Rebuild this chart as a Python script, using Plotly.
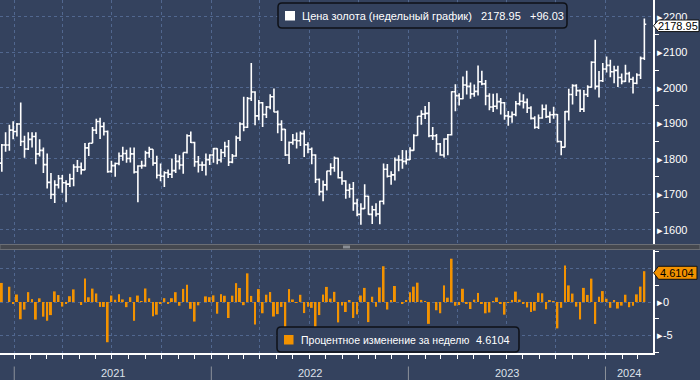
import numpy as np
import pandas as pd
import plotly.graph_objects as go

# ---------------- data (weekly gold, week ending Friday) ----------------
week_ending = pd.date_range("2020-11-27", "2024-03-08", freq="W-FRI")

open_ = [1871, 1788, 1839, 1839, 1881, 1877, 1898, 1849, 1828, 1855,
         1863, 1814, 1824, 1784, 1734, 1700, 1727, 1745, 1733, 1729,
         1744, 1777, 1777, 1769, 1831, 1844, 1881, 1905, 1891, 1877,
         1765, 1781, 1787, 1808, 1815, 1801, 1814, 1763, 1780, 1781,
         1817, 1827, 1788, 1754, 1751, 1761, 1757, 1767, 1793, 1783,
         1818, 1865, 1846, 1792, 1783, 1783, 1798, 1811, 1829, 1797,
         1818, 1835, 1791, 1808, 1859, 1898, 1889, 1970, 1988, 1921,
         1958, 1925, 1946, 1975, 1932, 1897, 1883, 1811, 1846, 1853,
         1851, 1871, 1840, 1827, 1811, 1742, 1708, 1727, 1766, 1775,
         1802, 1747, 1738, 1712, 1716, 1675, 1644, 1660, 1695, 1644,
         1657, 1645, 1681, 1771, 1751, 1755, 1797, 1797, 1793, 1798,
         1824, 1866, 1920, 1926, 1928, 1865, 1865, 1842, 1811, 1856,
         1868, 1989, 1978, 1969, 2008, 2004, 1983, 1990, 2017, 2011,
         1977, 1946, 1948, 1961, 1958, 1921, 1919, 1925, 1955, 1962,
         1959, 1943, 1914, 1889, 1915, 1940, 1919, 1924, 1925, 1849,
         1833, 1933, 1981, 2006, 1992, 1940, 1981, 2002, 2072, 2004,
         2020, 2053, 2063, 2045, 2049, 2029, 2018, 2040, 2024, 2013,
         2036, 2083]
high = [1875, 1842, 1875, 1896, 1906, 1901, 1959, 1865, 1875, 1875,
        1875, 1855, 1832, 1815, 1760, 1740, 1755, 1755, 1740, 1758,
        1785, 1797, 1790, 1845, 1845, 1890, 1913, 1916, 1903, 1880,
        1795, 1790, 1818, 1834, 1826, 1832, 1832, 1782, 1795, 1823,
        1834, 1827, 1809, 1787, 1765, 1770, 1801, 1814, 1810, 1818,
        1869, 1877, 1848, 1808, 1793, 1815, 1813, 1831, 1830, 1828,
        1848, 1853, 1814, 1865, 1903, 1975, 1974, 2070, 1990, 1966,
        1960, 1949, 1982, 1998, 1936, 1909, 1884, 1849, 1870, 1874,
        1877, 1880, 1847, 1832, 1813, 1745, 1739, 1767, 1788, 1807,
        1803, 1765, 1740, 1730, 1735, 1688, 1675, 1729, 1696, 1668,
        1675, 1682, 1787, 1786, 1765, 1804, 1810, 1825, 1824, 1833,
        1869, 1921, 1937, 1949, 1960, 1890, 1870, 1845, 1858, 1870,
        1990, 2010, 1985, 2032, 2048, 2015, 2009, 2063, 2048, 2022,
        1985, 1983, 1985, 1971, 1960, 1935, 1933, 1963, 1987, 1982,
        1970, 1948, 1920, 1925, 1953, 1953, 1933, 1947, 1926, 1850,
        1935, 1997, 2010, 2010, 1995, 1994, 2007, 2075, 2135, 2047,
        2070, 2088, 2079, 2062, 2062, 2040, 2065, 2045, 2031, 2041,
        2088, 2195]
low = [1774, 1764, 1820, 1823, 1855, 1863, 1836, 1803, 1825, 1832,
       1785, 1807, 1760, 1717, 1687, 1676, 1717, 1705, 1678, 1721,
       1723, 1763, 1756, 1768, 1808, 1844, 1870, 1856, 1866, 1761,
       1761, 1750, 1782, 1795, 1789, 1790, 1759, 1678, 1772, 1778,
       1803, 1781, 1745, 1737, 1721, 1746, 1746, 1760, 1770, 1758,
       1815, 1845, 1778, 1762, 1766, 1753, 1783, 1789, 1785, 1790,
       1805, 1780, 1788, 1806, 1850, 1878, 1887, 1963, 1895, 1909,
       1890, 1915, 1940, 1931, 1872, 1850, 1808, 1786, 1840, 1829,
       1836, 1805, 1816, 1785, 1732, 1697, 1681, 1711, 1754, 1764,
       1745, 1727, 1688, 1691, 1654, 1639, 1615, 1659, 1643, 1617,
       1638, 1616, 1672, 1748, 1727, 1739, 1765, 1772, 1784, 1797,
       1823, 1865, 1896, 1912, 1861, 1853, 1819, 1809, 1804, 1810,
       1866, 1934, 1950, 1968, 1981, 1969, 1975, 1978, 2007, 1951,
       1937, 1932, 1940, 1925, 1910, 1893, 1902, 1920, 1950, 1942,
       1929, 1911, 1885, 1884, 1913, 1915, 1901, 1913, 1846, 1810,
       1832, 1908, 1953, 1977, 1932, 1932, 1974, 2000, 1995, 1973,
       2016, 2043, 2030, 2013, 2002, 2010, 2016, 2015, 1984, 2010,
       2025, 2078]
close = [1788, 1839, 1839, 1881, 1877, 1898, 1849, 1828, 1855, 1863,
         1814, 1824, 1784, 1734, 1700, 1727, 1745, 1733, 1729, 1744,
         1777, 1777, 1769, 1831, 1844, 1881, 1905, 1891, 1877, 1764,
         1781, 1787, 1808, 1815, 1801, 1814, 1763, 1780, 1781, 1817,
         1827, 1788, 1754, 1751, 1761, 1757, 1767, 1793, 1783, 1818,
         1865, 1846, 1792, 1783, 1783, 1798, 1811, 1829, 1797, 1818,
         1835, 1791, 1808, 1859, 1898, 1889, 1970, 1988, 1921, 1958,
         1925, 1946, 1975, 1932, 1897, 1883, 1811, 1846, 1853, 1851,
         1871, 1840, 1827, 1811, 1742, 1708, 1727, 1766, 1775, 1802,
         1747, 1738, 1712, 1716, 1675, 1644, 1660, 1695, 1644, 1657,
         1645, 1681, 1771, 1751, 1755, 1797, 1797, 1793, 1798, 1824,
         1866, 1920, 1926, 1928, 1865, 1865, 1842, 1811, 1856, 1868,
         1989, 1978, 1969, 2008, 2004, 1983, 1990, 2017, 2011, 1977,
         1946, 1948, 1961, 1958, 1921, 1919, 1925, 1955, 1962, 1959,
         1943, 1914, 1889, 1915, 1940, 1919, 1924, 1925, 1849, 1833,
         1933, 1981, 2006, 1992, 1940, 1981, 2002, 2072, 2004, 2020,
         2053, 2063, 2045, 2049, 2029, 2018, 2040, 2024, 2013, 2036,
         2082.92, 2178.95]

price_name = "Цена золота (недельный график)"
pct_name = "Процентное изменение за неделю"
year_labels = ["2021", "2022", "2023", "2024"]
price_ticks = [1600, 1700, 1800, 1900, 2000, 2100, 2200]
pct_ticks = [-5, 0, 5]

assert len(week_ending) == len(open_) == len(high) == len(low) == len(close)

close_arr = np.array(close, dtype=float)
pct = np.r_[np.nan, (close_arr[1:] / close_arr[:-1] - 1.0) * 100.0]
last_close = close_arr[-1]
last_change = close_arr[-1] - close_arr[-2]
last_pct = pct[-1]

# ---------------- styling / layout ----------------
BG = "#34425E"
GRID = "#51678F"
ORANGE = "#F39200"
WHITE = "#FFFFFF"
FONT = "Liberation Sans, Arial, sans-serif"

W, H = 700, 380
PLOT_W, PLOT_H = 653, 353
UP_DOM = [1 - 244 / PLOT_H, 1.0]
LOW_DOM = [0.0, 104 / PLOT_H]
UP_RANGE = [1560.6, 2247.0]
LOW_RANGE = [-7.63, 7.93]
X_RANGE = ["2020-11-30 15:00", "2024-03-24 00:00"]
SHIFT = pd.Timedelta(days=5)
TAG_OFFSET_PX = 1.6

months = pd.date_range("2020-12-01", "2024-03-01", freq="MS")
quarter_ticks = [m - SHIFT for m in months if m.month in (1, 4, 7, 10)]
minor_month_ticks = [m - SHIFT for m in months if m.month not in (1, 4, 7, 10)]
year_starts = [pd.Timestamp(f"{y}-01-01") - SHIFT for y in year_labels]
x_end = pd.Timestamp(X_RANGE[1])
year_ends = year_starts[1:] + [x_end]
year_centers = [a + (b - a) / 2 for a, b in zip(year_starts, year_ends)]


def px_x(px):
    return px / PLOT_W


def px_y(py):
    return (PLOT_H - py) / PLOT_H


def up_paper(v):
    return UP_DOM[0] + (v - UP_RANGE[0]) / (UP_RANGE[1] - UP_RANGE[0]) * (UP_DOM[1] - UP_DOM[0])


def low_paper(v):
    return LOW_DOM[0] + (v - LOW_RANGE[0]) / (LOW_RANGE[1] - LOW_RANGE[0]) * (LOW_DOM[1] - LOW_DOM[0])


def P(x, y):
    return f"{px_x(x):.5f},{px_y(y):.5f}"


def rounded_rect(x0, y0, x1, y1, r):
    return (f"M {P(x0 + r, y0)} L {P(x1 - r, y0)} Q {P(x1, y0)} {P(x1, y0 + r)} "
            f"L {P(x1, y1 - r)} Q {P(x1, y1)} {P(x1 - r, y1)} L {P(x0 + r, y1)} "
            f"Q {P(x0, y1)} {P(x0, y1 - r)} L {P(x0, y0 + r)} Q {P(x0, y0)} {P(x0 + r, y0)} Z")


def tag_path(yc, x0, x1, half_h):
    return (f"M {P(x0, yc)} L {P(x0 + 5, yc - half_h)} L {P(x1, yc - half_h)} "
            f"L {P(x1, yc + half_h)} L {P(x0 + 5, yc + half_h)} Z")


fig = go.Figure()

fig.add_trace(go.Ohlc(
    x=week_ending, open=open_, high=high, low=low, close=close,
    increasing=dict(line=dict(color=WHITE, width=1.6)),
    decreasing=dict(line=dict(color=WHITE, width=1.6)),
    tickwidth=0.5, hoverinfo="skip", xaxis="x", yaxis="y", name=price_name,
))

fig.add_trace(go.Bar(
    x=week_ending, y=pct, marker=dict(color=ORANGE, line=dict(width=0)),
    width=3.6 * 86400000, hoverinfo="skip", xaxis="x2", yaxis="y2", name=pct_name,
))

axis_font = dict(family=FONT, size=11, color=WHITE)

fig.update_layout(
    width=W, height=H,
    margin=dict(l=0, r=W - PLOT_W, t=0, b=H - PLOT_H, autoexpand=False),
    paper_bgcolor=BG, plot_bgcolor=BG,
    showlegend=False, hovermode=False,
    font=dict(family=FONT, size=11, color=WHITE),
    xaxis=dict(
        domain=[0, 1], anchor="y", type="date", range=X_RANGE,
        tickmode="array", tickvals=quarter_ticks, showticklabels=False, ticks="",
        showgrid=True, gridcolor=GRID, griddash="dot", gridwidth=1,
        showline=False, zeroline=False, rangeslider=dict(visible=False),
        matches="x2",
    ),
    xaxis2=dict(
        domain=[0, 1], anchor="y2", type="date", range=X_RANGE,
        tickmode="array", tickvals=quarter_ticks, showticklabels=False,
        ticks="outside", ticklen=4, tickwidth=1, tickcolor=WHITE,
        showgrid=True, gridcolor=GRID, griddash="dot", gridwidth=1,
        showline=True, linecolor=WHITE, linewidth=1.5, zeroline=False,
        minor=dict(tickmode="array", tickvals=minor_month_ticks, ticks="outside",
                   ticklen=4, tickwidth=1, tickcolor=WHITE, showgrid=False),
        rangeslider=dict(visible=False),
    ),
    yaxis=dict(
        domain=UP_DOM, anchor="x", side="right", range=UP_RANGE,
        tickmode="array", tickvals=price_ticks,
        ticktext=["▸" + str(v) for v in price_ticks],
        ticks="", tickfont=axis_font,
        showgrid=True, gridcolor=GRID, griddash="dot", gridwidth=1,
        showline=True, linecolor=WHITE, linewidth=1.5, zeroline=False,
        minor=dict(tickmode="array", tickvals=[v + 50 for v in price_ticks[:-1]],
                   ticks="outside", ticklen=4, tickwidth=1, tickcolor=WHITE, showgrid=False),
    ),
    yaxis2=dict(
        domain=LOW_DOM, anchor="x2", side="right", range=LOW_RANGE,
        tickmode="array", tickvals=pct_ticks,
        ticktext=["▸" + str(v) for v in pct_ticks[:-1]] + [""],
        ticks="", tickfont=axis_font,
        showgrid=True, gridcolor=GRID, griddash="dot", gridwidth=1,
        showline=True, linecolor=WHITE, linewidth=1.5, zeroline=False,
        minor=dict(tickmode="array", tickvals=[-7.5, -2.5, 2.5, 7.5],
                   ticks="outside", ticklen=4, tickwidth=1, tickcolor=WHITE, showgrid=False),
    ),
)

shapes = []
# separator bar between panels
shapes.append(dict(type="rect", xref="paper", yref="paper",
                   x0=0, x1=px_x(W), y0=px_y(249.5), y1=px_y(244.5),
                   fillcolor="#45484F", line=dict(color="#6B6E75", width=1), layer="above"))
for gy in (246.2, 247.8):
    shapes.append(dict(type="line", xref="paper", yref="paper",
                       x0=px_x(343), x1=px_x(350), y0=px_y(gy), y1=px_y(gy),
                       line=dict(color="#A9ADB4", width=1), layer="above"))
# year separators
for ys in year_starts:
    shapes.append(dict(type="line", xref="x2", yref="paper", x0=ys, x1=ys,
                       y0=px_y(366.5), y1=px_y(380), line=dict(color="#8C919B", width=1)))
# legend boxes
shapes.append(dict(type="path", xref="paper", yref="paper",
                   path=rounded_rect(278, 3, 567, 28, 4),
                   fillcolor=BG, line=dict(color="#0E1117", width=1.5), layer="above"))
shapes.append(dict(type="rect", xref="paper", yref="paper",
                   x0=px_x(285), x1=px_x(295), y0=px_y(20.5), y1=px_y(11),
                   fillcolor=WHITE, line=dict(width=0), layer="above"))
shapes.append(dict(type="path", xref="paper", yref="paper",
                   path=rounded_rect(277, 327, 519, 352, 4),
                   fillcolor=BG, line=dict(color="#0E1117", width=1.5), layer="above"))
shapes.append(dict(type="rect", xref="paper", yref="paper",
                   x0=px_x(284), x1=px_x(293.5), y0=px_y(344.5), y1=px_y(335),
                   fillcolor=ORANGE, line=dict(width=0), layer="above"))
# value tags on right axis (pixel centre just below the value, as in the reference)
close_yc = PLOT_H * (1 - up_paper(last_close)) + TAG_OFFSET_PX
pct_yc = PLOT_H * (1 - low_paper(last_pct)) + TAG_OFFSET_PX
shapes.append(dict(type="path", xref="paper", yref="paper",
                   path=tag_path(close_yc, 653.5, 699, 5.8),
                   fillcolor=WHITE, line=dict(color="#111111", width=1), layer="above"))
shapes.append(dict(type="path", xref="paper", yref="paper",
                   path=tag_path(pct_yc, 653.5, 697, 6.5),
                   fillcolor=ORANGE, line=dict(color="#111111", width=1), layer="above"))
fig.update_layout(shapes=shapes)

ann = []
txt = dict(family=FONT, size=11, color=WHITE)
txt_small = dict(family=FONT, size=10.5, color=WHITE)
ann.append(dict(xref="paper", yref="paper", x=px_x(300), y=px_y(15.8), xanchor="left",
                yanchor="middle", text=price_name, showarrow=False, font=txt))
ann.append(dict(xref="paper", yref="paper", x=px_x(479), y=px_y(15.8), xanchor="left",
                yanchor="middle", text=f"{last_close:.2f}", showarrow=False, font=txt))
ann.append(dict(xref="paper", yref="paper", x=px_x(528), y=px_y(15.8), xanchor="left",
                yanchor="middle", text=f"{last_change:+.2f}", showarrow=False, font=txt))
ann.append(dict(xref="paper", yref="paper", x=px_x(299), y=px_y(339.8), xanchor="left",
                yanchor="middle", text=pct_name, showarrow=False, font=txt_small))
ann.append(dict(xref="paper", yref="paper", x=px_x(474), y=px_y(339.8), xanchor="left",
                yanchor="middle", text=f"{last_pct:.4f}", showarrow=False, font=txt))
ann.append(dict(xref="paper", yref="paper", x=px_x(678), y=px_y(close_yc), xanchor="center",
                yanchor="middle", text=f"{last_close:.2f}", showarrow=False,
                font=dict(family=FONT, size=11, color="#000000")))
ann.append(dict(xref="paper", yref="paper", x=px_x(677), y=px_y(pct_yc), xanchor="center",
                yanchor="middle", text=f"{last_pct:.4f}", showarrow=False,
                font=dict(family=FONT, size=11, color="#000000")))
for lbl, c in zip(year_labels, year_centers):
    ann.append(dict(xref="x2", yref="paper", x=c, y=px_y(373), xanchor="center",
                    yanchor="middle", text=lbl, showarrow=False,
                    font=dict(family=FONT, size=11, color="#DCE1EA")))
fig.update_layout(annotations=ann)

fig.write_html("out.html", post_script="document.body.style.margin='0';",
               config={"displayModeBar": False})
